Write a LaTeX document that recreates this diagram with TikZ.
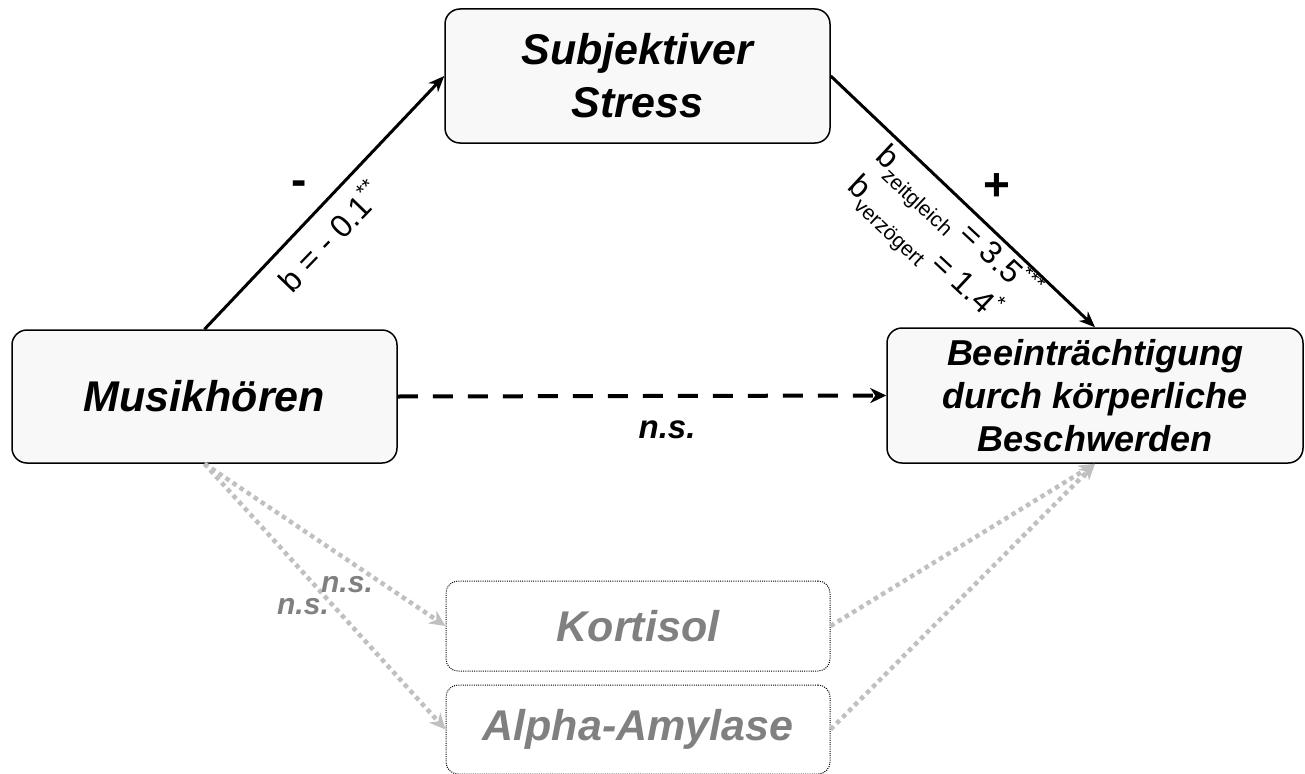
\documentclass[tikz,border=0pt]{standalone}
\usepackage{fontspec}
\setmainfont{Liberation Sans}
\usetikzlibrary{arrows.meta}
\definecolor{boxfill}{HTML}{F8F8F8}
\definecolor{graytext}{HTML}{808080}
\definecolor{grayline}{HTML}{C0C0C0}
\newcommand\mysup[1]{\raisebox{0.42em}{\fontsize{21}{21}\selectfont #1}}
\newcommand\mysub[1]{\raisebox{-0.3em}{\fontsize{21}{21}\selectfont #1}}
\begin{document}
\begin{tikzpicture}[x=1pt,y=-1pt,
  mainbox/.style={draw=black, line width=1.5pt, fill=boxfill, rounded corners=15pt,
    align=center, inner sep=0pt, font=\bfseries\itshape\fontsize{43}{53}\selectfont},
  biobox/.style={draw=black, line width=1pt, dash pattern=on 1pt off 1.2pt, fill=white,
    rounded corners=12pt, align=center, inner sep=0pt, text=graytext,
    font=\bfseries\itshape\fontsize{43}{48}\selectfont},
  solidarrow/.style={line width=3pt, -{Stealth[length=16pt,width=13pt,inset=5pt]}},
  dasharrow/.style={line width=4pt, dash pattern=on 20pt off 15pt, -{Stealth[length=16pt,width=15pt,inset=5pt]}},
  grayarrow/.style={draw=grayline, line width=4.5pt, dash pattern=on 4.5pt off 4pt,
    -{Stealth[length=16pt,width=15pt,inset=5pt]}},
  coef/.style={font=\fontsize{32}{38}\selectfont, inner sep=0pt},
  sign/.style={font=\bfseries\fontsize{46}{46}\selectfont, inner sep=0pt},
  nslab/.style={font=\bfseries\itshape\fontsize{33}{36}\selectfont, inner sep=0pt}
]
\useasboundingbox (0,0) rectangle (1305,773);
\node[mainbox, minimum width=385pt, minimum height=133pt] (musik) at (204.5,396.5) {Musikhören};
\node[mainbox, minimum width=385pt, minimum height=134pt] (stress) at (637.5,76) {Subjektiver\\Stress};
\node[mainbox, minimum width=416pt, minimum height=135pt, font=\bfseries\itshape\fontsize{36}{43}\selectfont] (beein) at (1095,395.5) {Beeinträchtigung\\durch körperliche\\Beschwerden};
\node[biobox, minimum width=384pt, minimum height=90pt] (kort) at (638,626) {Kortisol};
\node[biobox, minimum width=384pt, minimum height=89pt] (alpha) at (638,729.5) {Alpha-Amylase};

\draw[solidarrow] (musik.north) -- (stress.west);
\draw[solidarrow] (stress.east) -- (beein.north);
\draw[dasharrow] (musik.east) -- (beein.west);
\draw[grayarrow] (musik.south) -- (kort.west);
\draw[grayarrow] (musik.south) -- (alpha.west);
\draw[grayarrow] (kort.east) -- (beein.south);
\draw[grayarrow] (alpha.east) -- (beein.south);

\node[sign] (minus) at (299,188) {-};
\node[sign] (plus) at (997,187) {+};
\node[coef, rotate=46] (bmus) at (329,236) {b = - 0.1\mysup{**}};
\node[coef, rotate=-43, align=left] (bstr) at (942,240) {b\mysub{zeitgleich} = 3.5\mysup{***}\\[-2pt]b\mysub{verzögert} = 1.4\mysup{*}};
\node[nslab] (nsdirect) at (667,430) {n.s.};
\node[nslab, text=graytext, font=\bfseries\itshape\fontsize{30}{34}\selectfont] (nsk) at (347,585) {n.s.};
\node[nslab, text=graytext, font=\bfseries\itshape\fontsize{30}{34}\selectfont] (nsa) at (303,607) {n.s.};
\end{tikzpicture}
\end{document}
